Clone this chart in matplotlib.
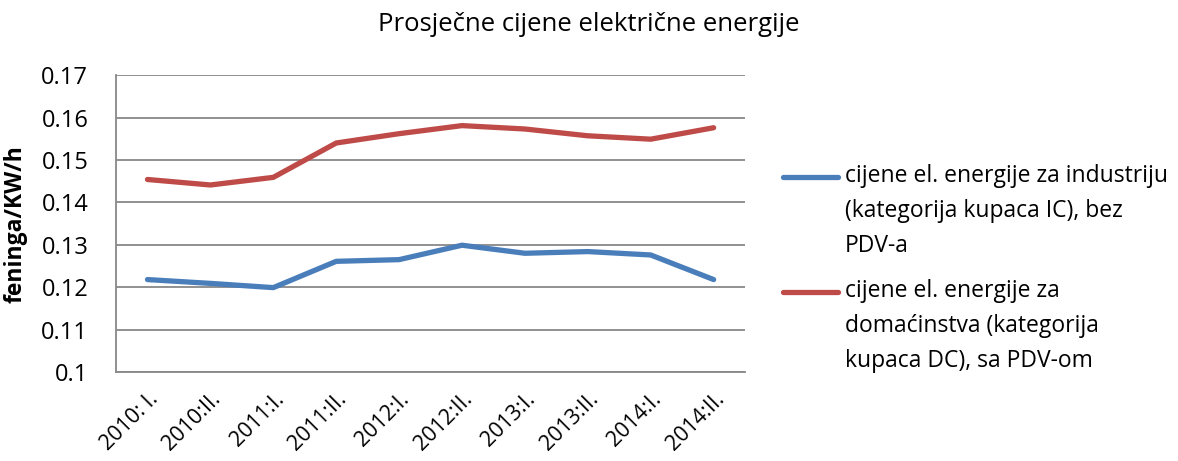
import matplotlib
matplotlib.use("Agg")
import matplotlib.pyplot as plt
from matplotlib.lines import Line2D
import numpy as np

plt.rcParams['font.family'] = ['Open Sans', 'DejaVu Sans']

periods = ["2010: I.", "2010:II.", "2011:I.", "2011:II.", "2012:I.",
           "2012:II.", "2013:I.", "2013:II.", "2014:I.", "2014:II."]
industrija = [0.1218, 0.1209, 0.1199, 0.1261, 0.1265,
              0.1299, 0.1280, 0.1284, 0.1276, 0.1218]
domacinstva = [0.1454, 0.1441, 0.1459, 0.1540, 0.1562,
               0.1581, 0.1573, 0.1557, 0.1549, 0.1576]
labels = ["cijene el. energije za industriju\n(kategorija kupaca IC), bez\nPDV-a",
          "cijene el. energije za\ndomaćinstva (kategorija\nkupaca DC), sa PDV-om"]
colors = ["#4A7EBB", "#BE4B48"]

fig = plt.figure(figsize=(11.78, 4.61), dpi=100)
ax = fig.add_axes([0.0985, 0.193, 0.534, 0.644])

x = np.arange(len(periods))
for vals, col, lab in zip([industrija, domacinstva], colors, labels):
    ax.plot(x, vals, color=col, lw=3.8, label=lab, solid_capstyle="round")

ax.set_xlim(-0.5, len(periods) - 0.5)
ax.set_ylim(0.10, 0.17)
ax.set_yticks(np.arange(0.10, 0.1701, 0.01))
ax.set_yticklabels(["0.1", "0.11", "0.12", "0.13", "0.14", "0.15", "0.16", "0.17"], fontsize=17)
ax.set_xticks(x)
ax.set_xticklabels(periods, rotation=45, ha="right", rotation_mode="anchor", fontsize=15.5)
ax.tick_params(axis="y", length=0, pad=20)
ax.tick_params(axis="x", length=0, pad=12)
ax.grid(axis="y", color="#888888", lw=1.3)
ax.set_axisbelow(True)
for side in ["top", "right"]:
    ax.spines[side].set_visible(False)
for side in ["left", "bottom"]:
    ax.spines[side].set_color("#888888")
    ax.spines[side].set_linewidth(1.3)

ax.set_ylabel("feninga/KW/h", fontsize=16.5, fontweight="bold", labelpad=10)
fig.suptitle("Prosječne cijene električne energije", fontsize=18.5, y=0.975)

# legend drawn by hand so the sample line sits on the first text row, like Excel
leg_y = [177, 292]
for yy, col, lab in zip(leg_y, colors, labels):
    fig.add_artist(Line2D([0.665, 0.711], [1 - yy / 461] * 2, color=col, lw=3.8,
                          solid_capstyle="round", transform=fig.transFigure))
    fig.text(0.717, 1 - (yy - 13) / 461, lab, fontsize=16.5, va="top", ha="left",
             linespacing=1.62, transform=fig.transFigure)

fig.savefig("out.png", dpi=100)
